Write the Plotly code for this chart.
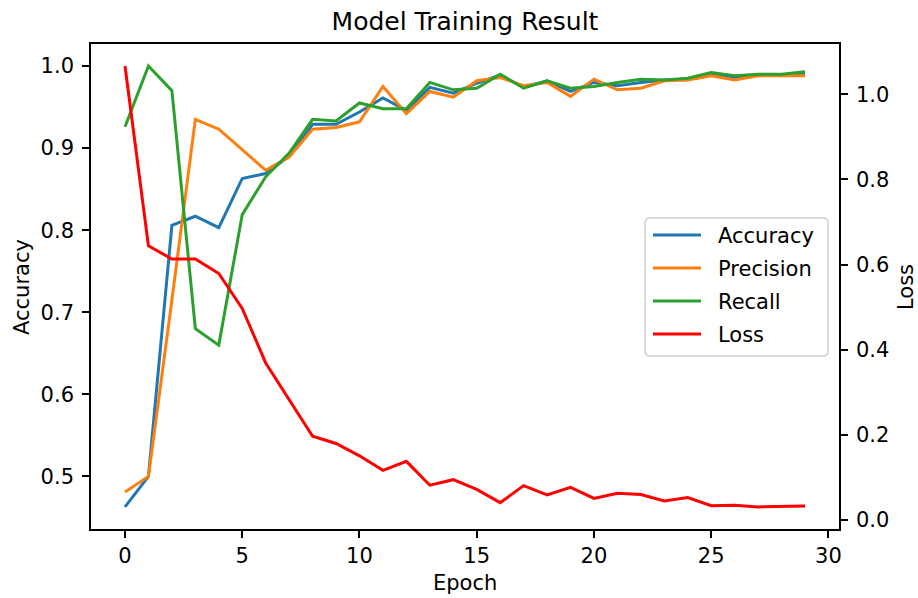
import plotly.graph_objects as go

epochs = list(range(30))
accuracy = [0.463, 0.500, 0.806, 0.817, 0.803, 0.863, 0.869, 0.890, 0.929, 0.929,
            0.944, 0.961, 0.946, 0.974, 0.967, 0.979, 0.989, 0.974, 0.982, 0.969,
            0.980, 0.976, 0.980, 0.983, 0.984, 0.991, 0.986, 0.989, 0.989, 0.991]
precision = [0.481, 0.500, 0.715, 0.935, 0.923, 0.898, 0.873, 0.889, 0.923, 0.925,
             0.932, 0.975, 0.942, 0.969, 0.962, 0.982, 0.986, 0.976, 0.980, 0.963,
             0.984, 0.971, 0.973, 0.982, 0.983, 0.988, 0.983, 0.988, 0.988, 0.988]
recall = [0.926, 1.000, 0.970, 0.680, 0.660, 0.819, 0.865, 0.894, 0.935, 0.933,
          0.955, 0.948, 0.948, 0.980, 0.971, 0.973, 0.990, 0.973, 0.982, 0.973,
          0.975, 0.980, 0.984, 0.983, 0.985, 0.992, 0.988, 0.990, 0.990, 0.993]
loss = [1.066, 0.644, 0.613, 0.613, 0.579, 0.497, 0.369, 0.282, 0.197, 0.180,
        0.151, 0.117, 0.138, 0.082, 0.095, 0.072, 0.041, 0.081, 0.059, 0.077,
        0.051, 0.063, 0.060, 0.045, 0.053, 0.034, 0.035, 0.031, 0.032, 0.033]

series_names = ["Accuracy", "Precision", "Recall", "Loss"]
series_colors = ["#1f77b4", "#ff7f0e", "#2ca02c", "#ff0000"]
x_ticks = [0, 5, 10, 15, 20, 25, 30]
acc_ticks = [0.5, 0.6, 0.7, 0.8, 0.9, 1.0]
loss_ticks = [0.0, 0.2, 0.4, 0.6, 0.8, 1.0]

font = "DejaVu Sans"
lw = 3

# plot-area geometry in screen pixels (body margin removed below)
PL, PT, PW, PH = 91, 44, 748, 485
FW, FH = 918, 598


def px(x):
    return (x - PL) / PW


def py(y):
    return (PT + PH - y) / PH


fig = go.Figure()
for name, vals, col in zip(series_names[:3], [accuracy, precision, recall], series_colors[:3]):
    fig.add_trace(go.Scatter(x=epochs, y=vals, name=name, mode="lines",
                             line=dict(color=col, width=lw), showlegend=False))
fig.add_trace(go.Scatter(x=epochs, y=loss, name="Loss", mode="lines", yaxis="y2",
                         line=dict(color=series_colors[3], width=lw), showlegend=False))

axis_common = dict(showgrid=False, zeroline=False, showline=True, linecolor="black",
                   linewidth=1.6, ticks="outside", ticklen=7, tickwidth=1.6,
                   tickcolor="black", automargin=False,
                   tickfont=dict(family=font, size=21, color="black"))

# custom legend (matplotlib-style)
x0, x1, y0, y1, r = 645, 828, 218, 356, 5
path = (f"M {px(x0 + r)} {py(y0)} L {px(x1 - r)} {py(y0)} "
        f"Q {px(x1)} {py(y0)} {px(x1)} {py(y0 + r)} L {px(x1)} {py(y1 - r)} "
        f"Q {px(x1)} {py(y1)} {px(x1 - r)} {py(y1)} L {px(x0 + r)} {py(y1)} "
        f"Q {px(x0)} {py(y1)} {px(x0)} {py(y1 - r)} L {px(x0)} {py(y0 + r)} "
        f"Q {px(x0)} {py(y0)} {px(x0 + r)} {py(y0)} Z")
shapes = [dict(type="path", xref="paper", yref="paper", path=path,
               line=dict(color="#d0d0d0", width=1.5), fillcolor="rgba(255,255,255,0.8)",
               layer="above")]
annotations = []
entry_y = [235, 268, 301, 334]
for name, col, yy in zip(series_names, series_colors, entry_y):
    shapes.append(dict(type="line", xref="paper", yref="paper",
                       x0=px(653), x1=px(701), y0=py(yy), y1=py(yy),
                       line=dict(color=col, width=lw), layer="above"))
    annotations.append(dict(text=name, xref="paper", yref="paper", x=px(716), y=py(yy + 1),
                            xanchor="left", yanchor="middle", showarrow=False,
                            font=dict(family=font, size=21, color="black")))

# axis titles
title_font = dict(family=font, size=21, color="black")
annotations.append(dict(text="Epoch", xref="paper", yref="paper", x=px(465), y=py(583),
                        xanchor="center", yanchor="middle", showarrow=False, font=title_font))
annotations.append(dict(text="Accuracy", xref="paper", yref="paper", x=px(22), y=py(287),
                        xanchor="center", yanchor="middle", showarrow=False, textangle=-90,
                        font=title_font))
annotations.append(dict(text="Loss", xref="paper", yref="paper", x=px(906), y=py(287),
                        xanchor="center", yanchor="middle", showarrow=False, textangle=-90,
                        font=title_font))

fig.update_layout(
    width=FW, height=FH,
    margin=dict(l=PL, r=FW - PL - PW, t=PT, b=FH - PT - PH),
    paper_bgcolor="white", plot_bgcolor="white",
    title=dict(text="Model Training Result", xref="container", yref="container",
               x=465 / FW, xanchor="center", y=1 - 21 / FH, yanchor="middle",
               font=dict(family=font, size=25, color="black")),
    xaxis=dict(range=[-1.45, 30.45], tickvals=x_ticks, mirror=True, ticklabelstandoff=0,
               **axis_common),
    yaxis=dict(range=[0.436, 1.0268], tickvals=acc_ticks, tickformat=".1f", ticklabelstandoff=4,
               **axis_common),
    yaxis2=dict(range=[-0.0208, 1.1178], tickvals=loss_ticks, tickformat=".1f",
                overlaying="y", side="right", ticklabelstandoff=4,
                **axis_common),
    shapes=shapes,
    annotations=annotations,
    showlegend=False,
)

fig.write_html("out.html", config={"displayModeBar": False},
               post_script="document.body.style.margin='0';document.body.style.overflow='hidden';")
